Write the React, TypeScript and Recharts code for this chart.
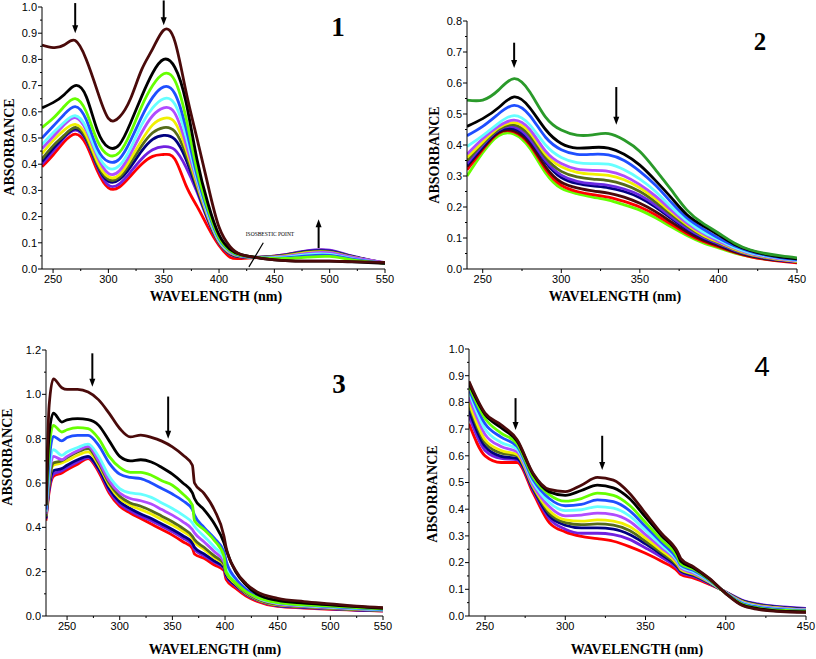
import React from 'react'
import { LineChart, Line, XAxis, YAxis, ReferenceLine } from 'recharts'

const SERIF = '"Liberation Serif", "Times New Roman", serif'
const SANS = '"Liberation Sans", Arial, sans-serif'

// curve colours (top curve first)
const colors1 = ['#4a0a0a', '#000000', '#66ff00', '#1f4fff', '#66ffff', '#b04cff', '#f0f000', '#556b1a', '#000080', '#7020e0', '#ff0000']
const colors2 = ['#2a9a2a', '#000000', '#1f4fff', '#66ffff', '#b04cff', '#f0f000', '#556b1a', '#6a2be2', '#000080', '#4a0a0a', '#ff0000', '#66ff00']
const colors3 = ['#4a0a0a', '#000000', '#66ff00', '#1f4fff', '#66ffff', '#b04cff', '#556b1a', '#f0f000', '#000080', '#7020e0', '#ff0000']
const colors4 = colors1

// ---- panel 1
const wl1 = [240, 250, 260, 270, 280, 290, 300, 310, 320, 330, 340, 350, 360, 370, 380, 390, 400, 410, 420, 440, 460, 480, 500, 520, 550]
const abs1 = [
  [0.855, 0.845, 0.855, 0.872, 0.8, 0.68, 0.575, 0.58, 0.65, 0.76, 0.84, 0.912, 0.87, 0.68, 0.5, 0.32, 0.16, 0.085, 0.055, 0.04, 0.032, 0.03, 0.03, 0.028, 0.025],
  [0.615, 0.635, 0.665, 0.7, 0.658, 0.53, 0.465, 0.475, 0.557, 0.658, 0.748, 0.8, 0.77, 0.64, 0.42, 0.25, 0.13, 0.075, 0.055, 0.04, 0.032, 0.03, 0.03, 0.027, 0.022],
  [0.54, 0.575, 0.62, 0.65, 0.6, 0.49, 0.435, 0.445, 0.52, 0.62, 0.7, 0.745, 0.72, 0.58, 0.38, 0.23, 0.12, 0.07, 0.052, 0.042, 0.04, 0.045, 0.048, 0.035, 0.022],
  [0.5, 0.545, 0.59, 0.62, 0.57, 0.46, 0.41, 0.42, 0.49, 0.58, 0.655, 0.695, 0.67, 0.54, 0.36, 0.22, 0.115, 0.068, 0.05, 0.042, 0.042, 0.05, 0.052, 0.038, 0.022],
  [0.475, 0.52, 0.56, 0.585, 0.54, 0.44, 0.385, 0.395, 0.46, 0.55, 0.615, 0.65, 0.63, 0.51, 0.345, 0.21, 0.11, 0.066, 0.05, 0.043, 0.045, 0.055, 0.056, 0.04, 0.022],
  [0.46, 0.505, 0.55, 0.578, 0.53, 0.43, 0.365, 0.375, 0.44, 0.52, 0.585, 0.615, 0.595, 0.48, 0.335, 0.205, 0.108, 0.064, 0.049, 0.044, 0.048, 0.06, 0.062, 0.045, 0.024],
  [0.44, 0.49, 0.53, 0.552, 0.51, 0.41, 0.352, 0.36, 0.42, 0.49, 0.55, 0.575, 0.56, 0.46, 0.325, 0.2, 0.105, 0.062, 0.048, 0.044, 0.05, 0.062, 0.063, 0.045, 0.022],
  [0.42, 0.47, 0.51, 0.54, 0.5, 0.4, 0.342, 0.35, 0.405, 0.47, 0.52, 0.54, 0.525, 0.44, 0.315, 0.195, 0.102, 0.06, 0.047, 0.045, 0.052, 0.065, 0.066, 0.047, 0.022],
  [0.41, 0.46, 0.505, 0.535, 0.495, 0.395, 0.335, 0.342, 0.39, 0.45, 0.495, 0.51, 0.495, 0.42, 0.305, 0.19, 0.1, 0.058, 0.046, 0.045, 0.053, 0.067, 0.068, 0.048, 0.022],
  [0.4, 0.45, 0.5, 0.53, 0.49, 0.39, 0.32, 0.325, 0.37, 0.42, 0.455, 0.467, 0.455, 0.39, 0.295, 0.185, 0.098, 0.056, 0.046, 0.046, 0.055, 0.07, 0.072, 0.05, 0.022],
  [0.39, 0.435, 0.485, 0.515, 0.475, 0.375, 0.31, 0.313, 0.355, 0.4, 0.43, 0.437, 0.42, 0.32, 0.24, 0.16, 0.09, 0.045, 0.04, 0.045, 0.055, 0.068, 0.07, 0.048, 0.02],
]
const xTicks1 = [250, 275, 300, 325, 350, 375, 400, 425, 450, 475, 500, 525, 550]
const yTicks1 = [0, 0.05, 0.1, 0.15, 0.2, 0.25, 0.3, 0.35, 0.4, 0.45, 0.5, 0.55, 0.6, 0.65, 0.7, 0.75, 0.8, 0.85, 0.9, 0.95, 1.0]

// ---- panel 2
const wl2 = [240, 250, 260, 270, 280, 290, 300, 310, 320, 330, 340, 350, 360, 370, 380, 390, 400, 410, 420, 430, 440, 450]
const abs2 = [
  [0.545, 0.545, 0.577, 0.614, 0.571, 0.49, 0.448, 0.432, 0.433, 0.437, 0.416, 0.379, 0.32, 0.255, 0.19, 0.148, 0.116, 0.084, 0.062, 0.05, 0.042, 0.036],
  [0.46, 0.485, 0.52, 0.555, 0.52, 0.45, 0.405, 0.39, 0.392, 0.39, 0.37, 0.335, 0.285, 0.23, 0.175, 0.14, 0.11, 0.08, 0.06, 0.047, 0.038, 0.033],
  [0.43, 0.46, 0.5, 0.528, 0.495, 0.425, 0.385, 0.37, 0.37, 0.368, 0.35, 0.315, 0.27, 0.215, 0.165, 0.13, 0.1, 0.075, 0.057, 0.045, 0.036, 0.03],
  [0.395, 0.43, 0.47, 0.495, 0.465, 0.4, 0.36, 0.343, 0.34, 0.338, 0.32, 0.29, 0.25, 0.2, 0.155, 0.12, 0.095, 0.07, 0.053, 0.042, 0.034, 0.028],
  [0.37, 0.42, 0.46, 0.48, 0.45, 0.38, 0.34, 0.322, 0.318, 0.315, 0.3, 0.272, 0.235, 0.19, 0.148, 0.115, 0.09, 0.068, 0.05, 0.04, 0.032, 0.027],
  [0.36, 0.41, 0.455, 0.472, 0.44, 0.37, 0.33, 0.312, 0.306, 0.302, 0.288, 0.262, 0.226, 0.183, 0.143, 0.11, 0.087, 0.065, 0.048, 0.038, 0.03, 0.025],
  [0.35, 0.405, 0.45, 0.465, 0.43, 0.36, 0.315, 0.297, 0.29, 0.285, 0.272, 0.25, 0.216, 0.176, 0.138, 0.107, 0.085, 0.063, 0.047, 0.037, 0.03, 0.025],
  [0.34, 0.4, 0.448, 0.458, 0.42, 0.35, 0.303, 0.283, 0.275, 0.27, 0.258, 0.238, 0.206, 0.168, 0.132, 0.103, 0.082, 0.061, 0.046, 0.036, 0.029, 0.024],
  [0.335, 0.395, 0.445, 0.452, 0.415, 0.345, 0.295, 0.276, 0.268, 0.262, 0.25, 0.23, 0.2, 0.163, 0.128, 0.1, 0.08, 0.06, 0.045, 0.035, 0.028, 0.023],
  [0.33, 0.39, 0.44, 0.445, 0.405, 0.33, 0.28, 0.262, 0.252, 0.245, 0.232, 0.212, 0.185, 0.152, 0.12, 0.094, 0.075, 0.056, 0.042, 0.033, 0.027, 0.023],
  [0.32, 0.385, 0.438, 0.442, 0.4, 0.322, 0.27, 0.25, 0.24, 0.232, 0.218, 0.2, 0.175, 0.144, 0.114, 0.09, 0.072, 0.054, 0.04, 0.031, 0.025, 0.02],
  [0.3, 0.375, 0.43, 0.435, 0.39, 0.31, 0.26, 0.243, 0.232, 0.222, 0.207, 0.19, 0.165, 0.136, 0.108, 0.085, 0.068, 0.052, 0.04, 0.032, 0.027, 0.025],
]
const xTicks2 = [250, 275, 300, 325, 350, 375, 400, 425, 450]
const yTicks2 = [0, 0.05, 0.1, 0.15, 0.2, 0.25, 0.3, 0.35, 0.4, 0.45, 0.5, 0.55, 0.6, 0.65, 0.7, 0.75, 0.8]

// ---- panel 3
const wl3 = [230, 233, 237, 245, 250, 260, 270, 280, 290, 300, 310, 320, 330, 340, 350, 360, 369, 371, 380, 390, 399, 401, 410, 420, 430, 450, 475, 500, 525, 550]
const abs3 = [
  [0.5, 0.95, 1.07, 1.03, 1.022, 1.022, 1.01, 0.975, 0.914, 0.846, 0.808, 0.816, 0.806, 0.789, 0.763, 0.726, 0.68, 0.6, 0.553, 0.477, 0.36, 0.31, 0.206, 0.146, 0.11, 0.08, 0.065, 0.055, 0.045, 0.038],
  [0.5, 0.82, 0.915, 0.875, 0.885, 0.89, 0.886, 0.86, 0.79, 0.72, 0.7, 0.705, 0.695, 0.67, 0.64, 0.6, 0.555, 0.53, 0.48, 0.415, 0.33, 0.3, 0.2, 0.14, 0.1, 0.07, 0.058, 0.05, 0.042, 0.035],
  [0.5, 0.76, 0.86, 0.83, 0.84, 0.85, 0.845, 0.8, 0.72, 0.67, 0.648, 0.648, 0.635, 0.61, 0.59, 0.55, 0.5, 0.43, 0.39, 0.34, 0.27, 0.2, 0.15, 0.11, 0.085, 0.06, 0.05, 0.045, 0.038, 0.032],
  [0.48, 0.7, 0.81, 0.79, 0.805, 0.815, 0.815, 0.77, 0.69, 0.64, 0.625, 0.62, 0.6, 0.575, 0.55, 0.52, 0.48, 0.455, 0.4, 0.35, 0.29, 0.25, 0.17, 0.12, 0.09, 0.062, 0.05, 0.043, 0.036, 0.03],
  [0.47, 0.65, 0.75, 0.725, 0.74, 0.76, 0.775, 0.72, 0.63, 0.575, 0.555, 0.55, 0.535, 0.51, 0.485, 0.455, 0.42, 0.405, 0.36, 0.31, 0.26, 0.22, 0.16, 0.115, 0.085, 0.058, 0.047, 0.04, 0.033, 0.028],
  [0.46, 0.63, 0.72, 0.705, 0.72, 0.745, 0.765, 0.7, 0.61, 0.555, 0.53, 0.52, 0.505, 0.48, 0.455, 0.425, 0.39, 0.375, 0.335, 0.29, 0.245, 0.21, 0.155, 0.11, 0.082, 0.055, 0.045, 0.038, 0.032, 0.027],
  [0.45, 0.6, 0.69, 0.7, 0.715, 0.74, 0.755, 0.69, 0.6, 0.54, 0.51, 0.495, 0.475, 0.45, 0.425, 0.395, 0.36, 0.345, 0.31, 0.27, 0.235, 0.2, 0.15, 0.105, 0.078, 0.052, 0.043, 0.036, 0.031, 0.026],
  [0.45, 0.6, 0.68, 0.69, 0.7, 0.725, 0.74, 0.68, 0.59, 0.53, 0.5, 0.48, 0.46, 0.435, 0.41, 0.382, 0.35, 0.335, 0.3, 0.262, 0.23, 0.195, 0.145, 0.102, 0.076, 0.05, 0.042, 0.035, 0.03, 0.025],
  [0.44, 0.58, 0.655, 0.665, 0.68, 0.705, 0.72, 0.665, 0.575, 0.515, 0.485, 0.46, 0.44, 0.415, 0.39, 0.362, 0.33, 0.31, 0.28, 0.248, 0.22, 0.185, 0.14, 0.1, 0.074, 0.048, 0.04, 0.033, 0.028, 0.024],
  [0.44, 0.57, 0.64, 0.655, 0.67, 0.695, 0.715, 0.66, 0.565, 0.505, 0.475, 0.45, 0.43, 0.405, 0.38, 0.352, 0.32, 0.3, 0.272, 0.242, 0.215, 0.18, 0.135, 0.097, 0.072, 0.046, 0.038, 0.032, 0.027, 0.023],
  [0.43, 0.56, 0.63, 0.645, 0.66, 0.685, 0.71, 0.65, 0.555, 0.495, 0.465, 0.44, 0.415, 0.39, 0.365, 0.335, 0.305, 0.28, 0.26, 0.23, 0.205, 0.165, 0.125, 0.09, 0.067, 0.043, 0.036, 0.03, 0.026, 0.022],
]
const xTicks3 = [250, 275, 300, 325, 350, 375, 400, 425, 450, 475, 500, 525, 550]
const yTicks3 = [0, 0.1, 0.2, 0.3, 0.4, 0.5, 0.6, 0.7, 0.8, 0.9, 1.0, 1.1, 1.2]

// ---- panel 4
const wl4 = [240, 250, 260, 270, 280, 290, 300, 310, 320, 330, 340, 350, 360, 370, 372, 380, 390, 400, 410, 420, 430, 440, 450]
const abs4 = [
  [0.879, 0.76, 0.716, 0.66, 0.534, 0.474, 0.466, 0.49, 0.519, 0.509, 0.46, 0.384, 0.309, 0.24, 0.215, 0.184, 0.14, 0.084, 0.04, 0.025, 0.018, 0.015, 0.014],
  [0.87, 0.755, 0.705, 0.655, 0.53, 0.465, 0.452, 0.47, 0.49, 0.48, 0.44, 0.37, 0.3, 0.232, 0.205, 0.18, 0.138, 0.085, 0.042, 0.028, 0.02, 0.017, 0.015],
  [0.86, 0.74, 0.685, 0.645, 0.52, 0.455, 0.43, 0.44, 0.46, 0.452, 0.415, 0.35, 0.285, 0.22, 0.195, 0.175, 0.135, 0.085, 0.045, 0.03, 0.023, 0.02, 0.018],
  [0.85, 0.72, 0.67, 0.635, 0.51, 0.44, 0.413, 0.418, 0.435, 0.428, 0.395, 0.335, 0.275, 0.212, 0.19, 0.17, 0.133, 0.086, 0.048, 0.033, 0.026, 0.022, 0.02],
  [0.84, 0.7, 0.65, 0.625, 0.5, 0.425, 0.395, 0.398, 0.41, 0.404, 0.375, 0.32, 0.265, 0.205, 0.185, 0.165, 0.13, 0.087, 0.05, 0.035, 0.028, 0.024, 0.022],
  [0.82, 0.68, 0.635, 0.615, 0.49, 0.41, 0.375, 0.378, 0.385, 0.38, 0.355, 0.305, 0.255, 0.2, 0.18, 0.16, 0.128, 0.088, 0.052, 0.037, 0.03, 0.026, 0.023],
  [0.8, 0.66, 0.62, 0.605, 0.485, 0.395, 0.36, 0.355, 0.36, 0.355, 0.335, 0.292, 0.245, 0.193, 0.175, 0.157, 0.126, 0.088, 0.054, 0.039, 0.032, 0.027, 0.024],
  [0.79, 0.65, 0.61, 0.6, 0.48, 0.385, 0.35, 0.342, 0.345, 0.34, 0.32, 0.28, 0.237, 0.188, 0.172, 0.155, 0.125, 0.089, 0.056, 0.041, 0.033, 0.028, 0.025],
  [0.77, 0.635, 0.598, 0.59, 0.475, 0.375, 0.34, 0.33, 0.33, 0.325, 0.305, 0.27, 0.23, 0.183, 0.168, 0.152, 0.123, 0.089, 0.058, 0.043, 0.035, 0.03, 0.026],
  [0.75, 0.62, 0.59, 0.585, 0.47, 0.365, 0.325, 0.31, 0.31, 0.305, 0.287, 0.255, 0.22, 0.177, 0.163, 0.148, 0.121, 0.09, 0.06, 0.045, 0.037, 0.032, 0.028],
  [0.72, 0.6, 0.575, 0.575, 0.46, 0.35, 0.315, 0.298, 0.29, 0.28, 0.26, 0.235, 0.205, 0.168, 0.155, 0.142, 0.118, 0.09, 0.055, 0.04, 0.032, 0.028, 0.025],
]
const xTicks4 = [250, 275, 300, 325, 350, 375, 400, 425, 450]
const yTicks4 = yTicks1

const toRows = (wl: number[], abs: number[][]) =>
  wl.map((w, i) => {
    const row: any = { wl: w }
    abs.forEach((s, j) => { row['s' + j] = s[i] })
    return row
  })

const XTick = ({ x, y, payload }: any) => {
  const major = payload.value % 50 === 0
  return (
    <g>
      <line x1={x} y1={y} x2={x} y2={y + (major ? 4 : 2)} stroke="#000" />
      {major && (
        <text x={x} y={y + 14} textAnchor="middle" fontSize={11} fontFamily={SANS} fill="#000">
          {payload.value}
        </text>
      )}
    </g>
  )
}

const yTick = (step: number) => ({ x, y, payload }: any) => {
  const v = payload.value
  const major = Math.abs(v / step - Math.round(v / step)) < 1e-6
  return (
    <g>
      <line x1={x} y1={y} x2={x - (major ? 4 : 2)} y2={y} stroke="#000" />
      {major && (
        <text x={x - 5} y={y} dy="0.35em" textAnchor="end" fontSize={11} fontFamily={SANS} fill="#000">
          {v.toFixed(1)}
        </text>
      )}
    </g>
  )
}

const Arrow = (props: any) => {
  const { x1, y1, x2, y2 } = props
  const dir = y2 > y1 ? 1 : -1
  return (
    <g>
      <line x1={x1} y1={y1} x2={x2} y2={y2 - dir * 6} stroke="#000" strokeWidth={2} />
      <polygon points={`${x2},${y2} ${x2 - 3},${y2 - dir * 8} ${x2 + 3},${y2 - dir * 8}`} fill="#000" />
    </g>
  )
}

function Panel(p: any) {
  const rows = toRows(p.wl, p.abs)
  return (
    <div style={{ position: 'absolute', left: p.left, top: p.top }}>
      <LineChart width={p.width} height={p.height} data={rows} margin={p.margin}>
        <XAxis
          dataKey="wl" type="number" domain={p.xDomain} ticks={p.xTicks} interval={0}
          allowDataOverflow tickLine={false} tickSize={0} tickMargin={0} height={30}
          axisLine={{ stroke: '#000' }} tick={XTick}
        />
        <YAxis
          type="number" domain={p.yDomain} ticks={p.yTicks} interval={0} allowDataOverflow
          tickLine={false} tickSize={0} tickMargin={0} width={p.yWidth}
          axisLine={{ stroke: '#000' }} tick={yTick(p.yStep)}
        />
        {p.abs.map((_: number[], j: number) => (
          <Line
            key={j} dataKey={'s' + j} type={p.curve} stroke={p.colors[j]} strokeWidth={2.8}
            dot={false} isAnimationActive={false}
          />
        )).reverse()}
        {p.children}
      </LineChart>
    </div>
  )
}

const txt = (s: any): React.CSSProperties => ({
  position: 'absolute', transform: 'translate(-50%, -50%)', whiteSpace: 'nowrap', color: '#000', ...s,
})
const yTitle = (x: number, y: number) => (
  <div style={txt({ left: x, top: y, fontFamily: SERIF, fontWeight: 'bold', fontSize: 14, transform: 'translate(-50%, -50%) rotate(-90deg)' })}>
    ABSORBANCE
  </div>
)
const xTitle = (x: number, y: number) => (
  <div style={txt({ left: x, top: y, fontFamily: SERIF, fontWeight: 'bold', fontSize: 14 })}>WAVELENGTH (nm)</div>
)

export default function App() {
  return (
    <div style={{ position: 'absolute', left: 0, top: 0, width: 816, height: 659, background: '#fff', overflow: 'hidden' }}>
      <Panel
        left={0} top={0} width={400} height={310} margin={{ top: 7, right: 15, bottom: 11, left: 0 }} yWidth={42} curve="natural"
        wl={wl1} abs={abs1} colors={colors1} xDomain={[240, 550]} xTicks={xTicks1} yDomain={[0, 1]} yTicks={yTicks1} yStep={0.1}
      >
        <ReferenceLine segment={[{ x: 270, y: 1.015 }, { x: 270, y: 0.9 }]} ifOverflow="visible" shape={Arrow} />
        <ReferenceLine segment={[{ x: 350, y: 1.025 }, { x: 350, y: 0.93 }]} ifOverflow="visible" shape={Arrow} />
        <ReferenceLine segment={[{ x: 490, y: 0.08 }, { x: 490, y: 0.19 }]} ifOverflow="visible" shape={Arrow} />
        <ReferenceLine segment={[{ x: 427, y: 0.008 }, { x: 440, y: 0.1 }]} ifOverflow="visible" stroke="#000" strokeWidth={1.2} />
      </Panel>
      <Panel
        left={408} top={0} width={408} height={310} margin={{ top: 21, right: 19, bottom: 11, left: 0 }} yWidth={59} curve="natural"
        wl={wl2} abs={abs2} colors={colors2} xDomain={[240, 450]} xTicks={xTicks2} yDomain={[0, 0.8]} yTicks={yTicks2} yStep={0.1}
      >
        <ReferenceLine segment={[{ x: 270, y: 0.73 }, { x: 270, y: 0.648 }]} ifOverflow="visible" shape={Arrow} />
        <ReferenceLine segment={[{ x: 335, y: 0.587 }, { x: 335, y: 0.465 }]} ifOverflow="visible" shape={Arrow} />
      </Panel>
      <Panel
        left={0} top={330} width={400} height={329} margin={{ top: 20, right: 17, bottom: 13, left: 0 }} yWidth={46} curve="monotone"
        wl={wl3} abs={abs3} colors={colors3} xDomain={[230, 550]} xTicks={xTicks3} yDomain={[0, 1.2]} yTicks={yTicks3} yStep={0.2}
      >
        <ReferenceLine segment={[{ x: 274, y: 1.185 }, { x: 274, y: 1.034 }]} ifOverflow="visible" shape={Arrow} />
        <ReferenceLine segment={[{ x: 346, y: 0.99 }, { x: 346, y: 0.8 }]} ifOverflow="visible" shape={Arrow} />
      </Panel>
      <Panel
        left={408} top={330} width={408} height={329} margin={{ top: 19, right: 10, bottom: 13, left: 0 }} yWidth={61} curve="monotone"
        wl={wl4} abs={abs4} colors={colors4} xDomain={[240, 450]} xTicks={xTicks4} yDomain={[0, 1]} yTicks={yTicks4} yStep={0.1}
      >
        <ReferenceLine segment={[{ x: 269, y: 0.816 }, { x: 269, y: 0.697 }]} ifOverflow="visible" shape={Arrow} />
        <ReferenceLine segment={[{ x: 323, y: 0.675 }, { x: 323, y: 0.547 }]} ifOverflow="visible" shape={Arrow} />
      </Panel>

      {yTitle(10, 147)}
      {yTitle(435, 155)}
      {yTitle(8, 457)}
      {yTitle(433, 494)}
      {xTitle(216, 297)}
      {xTitle(615, 297)}
      {xTitle(215, 650)}
      {xTitle(637, 650)}

      <div style={txt({ left: 338, top: 27, fontFamily: SERIF, fontWeight: 'bold', fontSize: 27 })}>1</div>
      <div style={txt({ left: 760, top: 42, fontFamily: SERIF, fontWeight: 'bold', fontSize: 25 })}>2</div>
      <div style={txt({ left: 339, top: 384, fontFamily: SERIF, fontWeight: 'bold', fontSize: 27 })}>3</div>
      <div style={txt({ left: 762, top: 367, fontFamily: SANS, fontSize: 28 })}>4</div>
      <div style={txt({ left: 270, top: 234, fontFamily: SERIF, fontSize: 5.5 })}>ISOSBESTIC POINT</div>
    </div>
  )
}
